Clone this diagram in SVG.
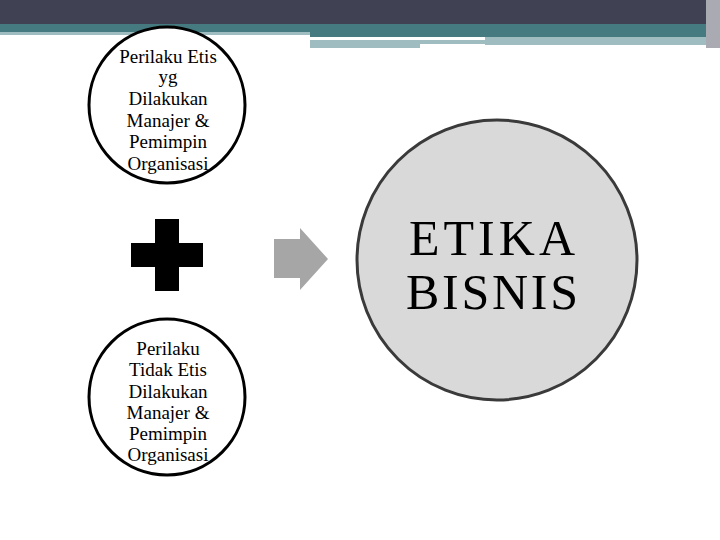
<svg xmlns="http://www.w3.org/2000/svg" width="720" height="540" viewBox="0 0 720 540">
<style>
.c{fill:#fff;stroke:#000;stroke-width:3}
.t{font-family:"Liberation Serif",serif;font-size:19px;fill:#000;text-anchor:middle}
.b{font-family:"Liberation Serif",serif;font-size:50px;fill:#000;text-anchor:middle}
</style>
<rect x="0" y="0" width="720" height="24" fill="#404152"/>
<rect x="0" y="24" width="720" height="9" fill="#457a80"/>
<rect x="0" y="32" width="310" height="3" fill="#9fbcc0"/>
<rect x="310" y="33" width="410" height="4" fill="#457a80"/>
<rect x="310" y="40" width="175" height="4" fill="#9fbcc0"/>
<rect x="310" y="44" width="110" height="4" fill="#9fbcc0"/>
<rect x="485" y="37" width="235" height="8" fill="#9fbcc0"/>
<rect x="706" y="0" width="14" height="48" fill="#a9aab2"/>
<g id="n1"><circle class="c" cx="167" cy="105" r="78"/>
<text class="t"><tspan x="168" y="63">Perilaku Etis</tspan><tspan x="168" y="83">yg</tspan><tspan x="168" y="105">Dilakukan</tspan><tspan x="168" y="127">Manajer &amp;</tspan><tspan x="168" y="148">Pemimpin</tspan><tspan x="168" y="170">Organisasi</tspan></text></g>
<g id="n2"><circle class="c" cx="167" cy="397" r="78"/>
<text class="t"><tspan x="168" y="355">Perilaku</tspan><tspan x="168" y="376">Tidak Etis</tspan><tspan x="168" y="398">Dilakukan</tspan><tspan x="168" y="419">Manajer &amp;</tspan><tspan x="168" y="440">Pemimpin</tspan><tspan x="168" y="461">Organisasi</tspan></text></g>
<g id="plus"><path d="M155 219H179V243H203V267H179V291H155V267H131V243H155Z" fill="#000"/></g>
<g id="connectors"><path d="M274 239H300V228L328 259L300 290V278H274Z" fill="#a6a6a6"/></g>
<g id="n3"><circle cx="497" cy="260" r="140" fill="#d9d9d9" stroke="#3a3a3a" stroke-width="3"/>
<text class="b"><tspan x="492" y="255" textLength="166">ETIKA</tspan><tspan x="492" y="309" textLength="172">BISNIS</tspan></text></g>
</svg>
